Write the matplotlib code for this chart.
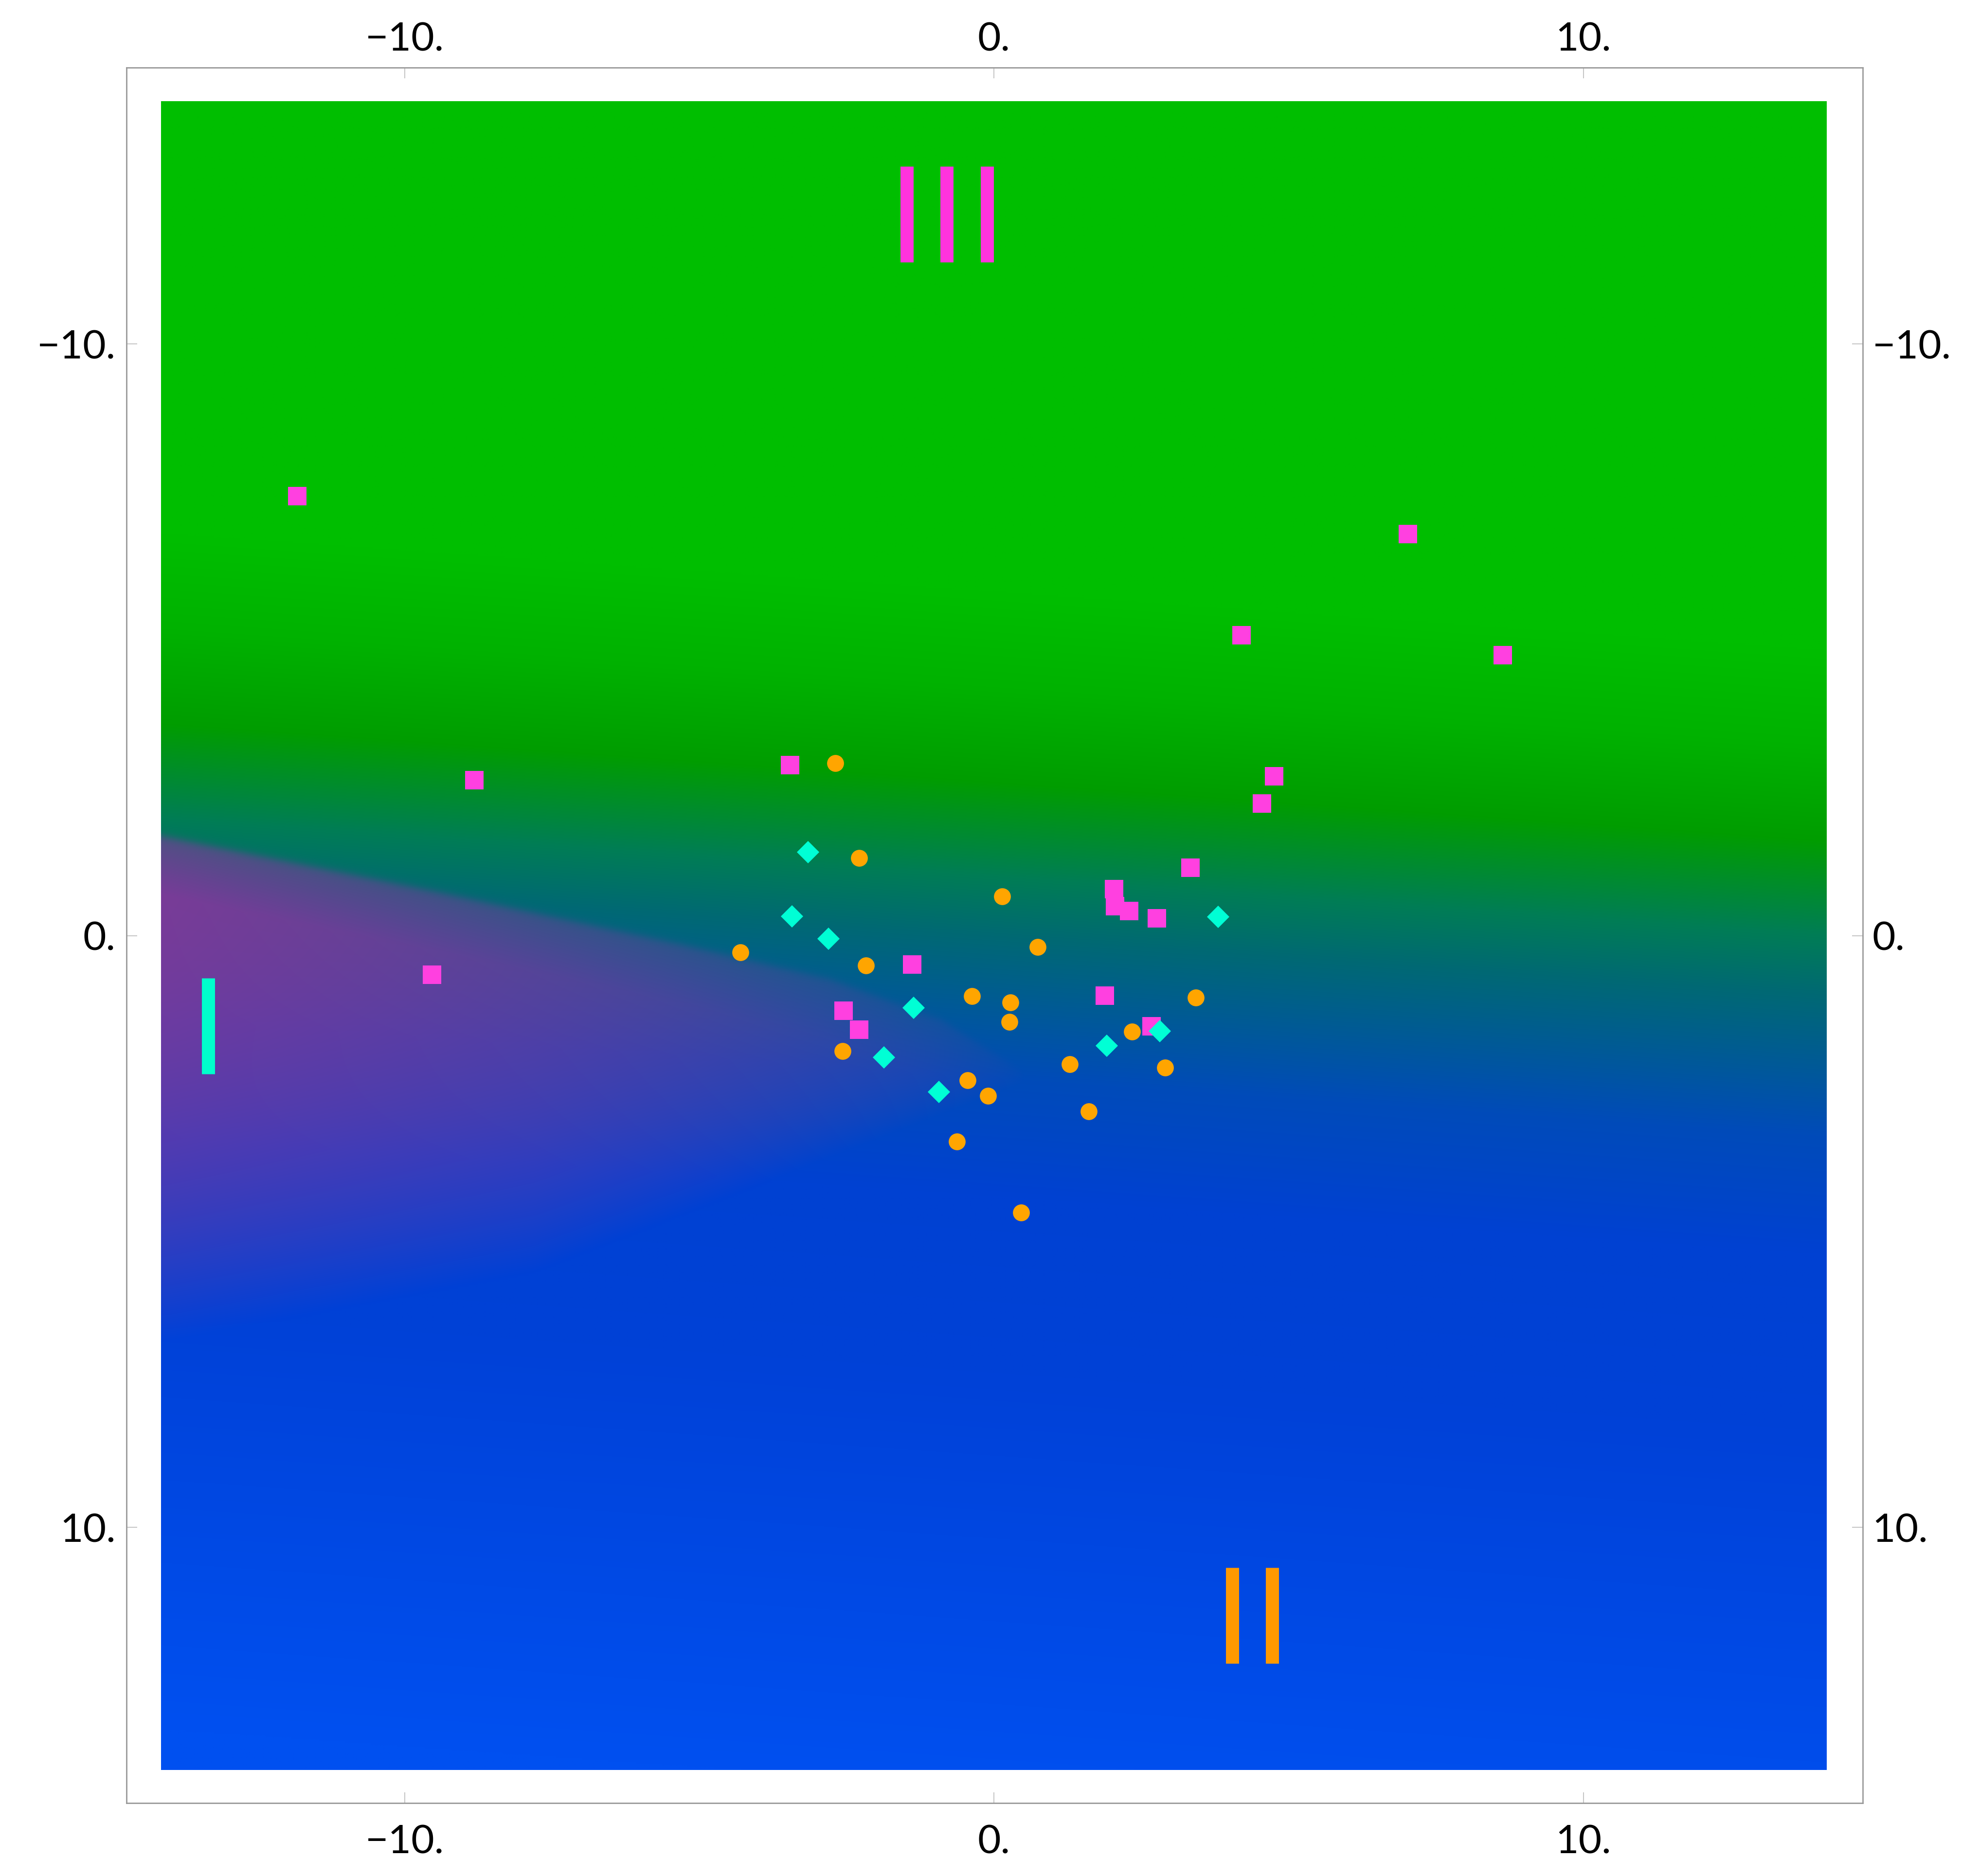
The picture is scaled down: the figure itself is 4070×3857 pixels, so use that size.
import numpy as np
import matplotlib
matplotlib.use('Agg')
import matplotlib.pyplot as plt

plt.rcParams['font.family'] = ['Lato', 'DejaVu Sans']

# class III : magenta squares
sq_x = [-11.82, 7.02, 4.20, 8.63, -8.82, -3.46, 4.75, 4.55, 3.33, 2.04, 2.05, 2.29, 2.76, -9.53, -1.39, 1.88, -2.55, -2.29, 2.67]
sq_y = [-7.43, -6.79, -5.08, -4.74, -2.63, -2.88, -2.69, -2.23, -1.15, -0.79, -0.50, -0.42, -0.29, 0.66, 0.49, 1.01, 1.27, 1.59, 1.53]

# class II : orange circles
ci_x = [-2.69, -2.29, 0.14, -4.30, 0.74, -2.17, -0.37, 0.28, 0.26, 3.42, 2.34, -2.57, 1.29, 2.90, -0.45, -0.10, 1.61, -0.63, 0.46]
ci_y = [-2.92, -1.31, -0.66, 0.28, 0.19, 0.50, 1.02, 1.13, 1.46, 1.05, 1.62, 1.95, 2.17, 2.23, 2.44, 2.71, 2.97, 3.48, 4.68]

# class I : cyan diamonds
di_x = [-3.15, -3.43, -2.81, 3.80, -1.36, -1.87, -0.93, 1.91, 2.81]
di_y = [-1.41, -0.33, 0.05, -0.32, 1.22, 2.06, 2.64, 1.86, 1.61]

# roman numeral labels
num_text = ['I', 'II', 'III']
num_x = [-13.33, 4.38, -0.80]
num_y = [1.53, 11.49, -12.19]
num_col = ['#00FFCC', '#FF9900', '#FF33DD']

ticks = [-10, 0, 10]
tick_labels = ['\u221210.', '0.', '10.']

# background (class probability blend)
nx, ny = 900, 900
gx = np.linspace(-14.13, 14.13, nx)
gy = np.linspace(-14.1, 14.1, ny)
X, Y = np.meshgrid(gx, gy)

d = Y + 2.6 - 0.07 * X
ramp_d = [-3.2, -1.6, 0, 1.6, 2.6, 3.8, 5, 7, 10, 17]
ramp_rgb = [(0, 190, 0), (0, 178, 0), (0, 157, 0), (0, 125, 85), (0, 105, 115),
            (0, 90, 150), (0, 75, 185), (0, 65, 210), (0, 65, 215), (0, 80, 240)]
base = np.stack([np.interp(d, ramp_d, [c[i] for c in ramp_rgb]) for i in range(3)], axis=-1)

up_x = [-14.2, -9.5, -5.3, -2.8, -0.9, 0.5]
up_y = [-1.7, -0.75, 0.15, 0.73, 1.42, 2.3]
lo_x = [-14.2, -7.8, 0.5]
lo_y = [6.9, 5.7, 2.5]
u = np.interp(X, up_x, up_y)
lw = np.interp(X, lo_x, lo_y)
h = Y - u
W = np.clip(lw - u, 0.1, None)
r = np.clip(h / W, 0, 1)
step = 1 / (1 + np.exp(-h / 0.04))
soft = 0.65 + 0.35 * np.clip(h / 1.0, 0, 1)
strength = np.clip((0.5 - X) / 14.6, 0, 1) ** 0.6
p = (0.9 * (1 - r ** 2.2) * step * soft * strength)[..., None]
purple = np.array([135, 55, 155])
rgb = base * (1 - p) + purple * p

fig = plt.figure(figsize=(40.7, 38.57), dpi=100)
ax = fig.add_axes([0.0638, 0.0389, 0.877, 0.925])
ax.imshow(rgb / 255, extent=(-14.13, 14.13, 14.1, -14.1), origin='upper',
          interpolation='bilinear', aspect='auto', zorder=0)

ax.plot(sq_x, sq_y, 's', color='#FF40E0', markersize=27, markeredgewidth=0, zorder=3)
ax.plot(ci_x, ci_y, 'o', color='#FFA500', markersize=25, markeredgewidth=0, zorder=3)
ax.plot(di_x, di_y, 'D', color='#00FFD5', markersize=23, markeredgewidth=0, zorder=4)

for txt, cx, cy, c in zip(num_text, num_x, num_y, num_col):
    n = len(txt)
    offs = (np.arange(n) - (n - 1) / 2) * 0.68
    ax.vlines(cx + offs, cy - 0.81, cy + 0.81, colors=c, linewidth=19.4, capstyle='butt', zorder=5)

ax.set_xlim(-14.72, 14.74)
ax.set_ylim(14.66, -14.67)

for s in ax.spines.values():
    s.set_color('#999999')
    s.set_linewidth(2.0)

ax.set_xticks(ticks, tick_labels)
ax.set_yticks(ticks, tick_labels)
ax.tick_params(direction='in', top=True, right=True, length=16, width=1.4,
               color='#c4c4c4', labelsize=59, labelcolor='black')
ax.tick_params(axis='x', pad=31)
ax.tick_params(axis='y', pad=16)

secx = ax.secondary_xaxis('top')
secx.set_xticks(ticks, tick_labels)
secx.tick_params(length=0, pad=15, labelsize=59)
secy = ax.secondary_yaxis('right')
secy.set_yticks(ticks, tick_labels)
secy.tick_params(length=0, pad=14, labelsize=59)
for sa in (secx, secy):
    for s in sa.spines.values():
        s.set_visible(False)

fig.savefig('out.png', dpi=100)
